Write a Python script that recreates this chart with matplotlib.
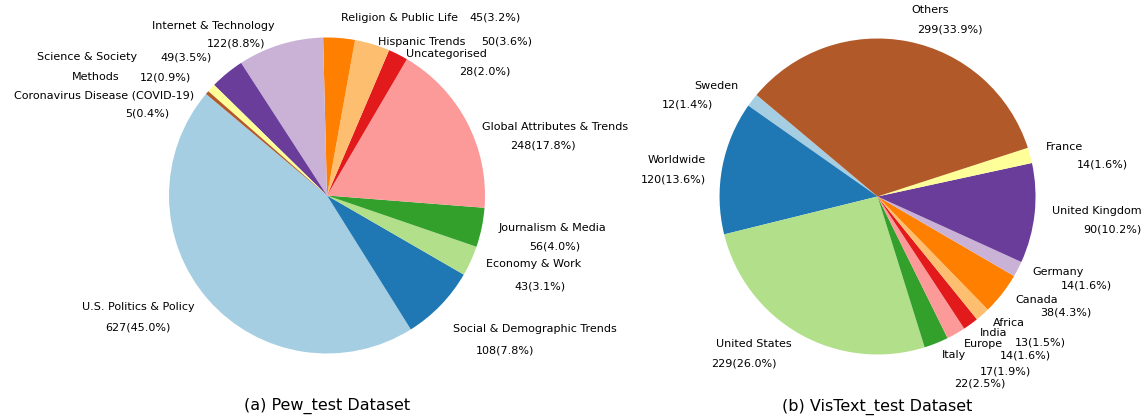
import numpy as np
import matplotlib.pyplot as plt

pew_names = ["U.S. Politics & Policy", "Social & Demographic Trends", "Economy & Work",
             "Journalism & Media", "Global Attributes & Trends", "Uncategorised",
             "Hispanic Trends", "Religion & Public Life", "Internet & Technology",
             "Science & Society", "Methods", "Coronavirus Disease (COVID-19)"]
pew_counts = [627, 108, 43, 56, 248, 28, 50, 45, 122, 49, 12, 5]

vis_names = ["Sweden", "Worldwide", "United States", "Italy", "Europe", "India",
             "Africa", "Canada", "Germany", "United Kingdom", "France", "Others"]
vis_counts = [12, 120, 229, 22, 17, 14, 13, 38, 14, 90, 14, 299]

# label / count text positions in pie-radius units (labels were nudged by hand)
pew_label_xy = [(-0.835, -0.704), (0.796, -0.845), (1.006, -0.435), (1.084, -0.204),
                (0.983, 0.432), (0.500, 0.896), (0.321, 0.973), (0.087, 1.122),
                (-0.329, 1.075), (-1.204, 0.875), (-1.316, 0.748), (-0.840, 0.636)]
pew_pct_xy = [(-1.198, -0.837), (1.127, -0.978), (1.351, -0.573), (1.441, -0.324),
              (1.369, 0.315), (1.000, 0.784), (1.139, 0.973), (1.066, 1.127),
              (-0.576, 0.963), (-0.892, 0.875), (-1.025, 0.748), (-1.139, 0.516)]

vis_label_xy = [(-0.881, 0.699), (-1.085, 0.231), (-0.543, -0.935), (0.410, -1.003),
                (0.549, -0.934), (0.649, -0.866), (0.733, -0.803), (0.870, -0.655),
                (0.980, -0.480), (1.103, -0.092), (1.066, 0.313), (0.212, 1.180)]
vis_pct_xy = [(-1.201, 0.584), (-1.294, 0.109), (-0.849, -1.060), (0.649, -1.182),
              (0.812, -1.109), (0.934, -1.009), (1.032, -0.925), (1.194, -0.735),
              (1.322, -0.565), (1.484, -0.212), (1.426, 0.204), (0.459, 1.054)]


def draw_pie(ax, names, counts, label_xy, pct_xy, title):
    colors = plt.cm.Paired(np.arange(len(counts)))
    ax.pie(counts, colors=colors, startangle=140, counterclock=True)
    total = sum(counts)
    for name, c, (lx, ly), (px, py) in zip(names, counts, label_xy, pct_xy):
        ha = "left" if lx > 0 else "right"
        ax.text(lx, ly, name, ha=ha, va="center", fontsize=8)
        ax.text(px, py, "%d(%.1f%%)" % (c, c / total * 100), ha="center", va="center", fontsize=8)
    ax.text(0, -1.33, title, ha="center", va="center", fontsize=11.5)
    ax.set_xlim(-1.25, 1.25)
    ax.set_ylim(-1.25, 1.25)
    ax.set_aspect("equal")


fig = plt.figure(figsize=(11.46, 4.17), dpi=100)
ax1 = fig.add_axes([0.1130, 0.0576, 0.3447, 0.9472])
ax2 = fig.add_axes([0.5934, 0.0552, 0.3447, 0.9472])

draw_pie(ax1, pew_names, pew_counts, pew_label_xy, pew_pct_xy, "(a) Pew_test Dataset")
draw_pie(ax2, vis_names, vis_counts, vis_label_xy, vis_pct_xy, "(b) VisText_test Dataset")

fig.savefig("out.png", dpi=100)
